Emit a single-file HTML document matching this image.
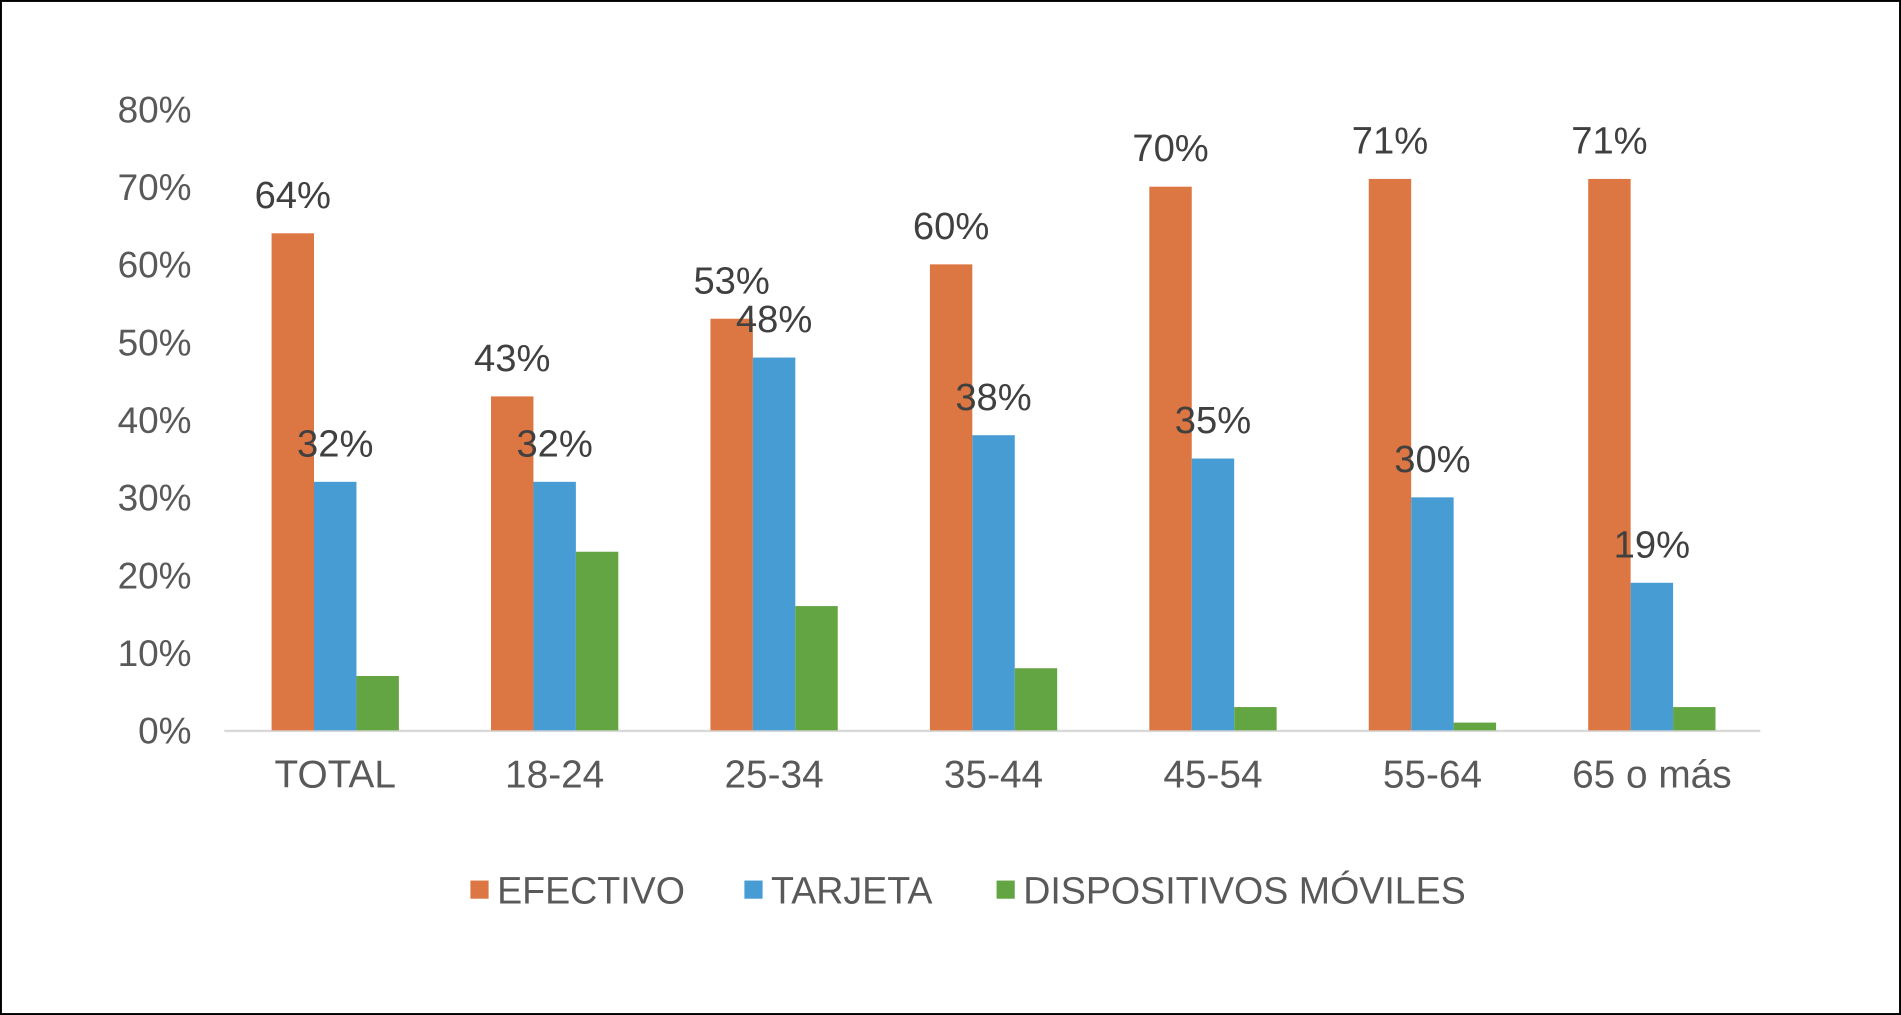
<!DOCTYPE html>
<html><head><meta charset="utf-8"><style>
html,body{margin:0;padding:0;background:#fff;}
svg{display:block;font-family:"Liberation Sans",Arial,sans-serif;}
</style></head><body>
<svg id="chart" width="1901" height="1015" viewBox="0 0 1568 838" preserveAspectRatio="none" xmlns="http://www.w3.org/2000/svg">
<rect x="0.8" y="0.8" width="1566.4" height="836.4" fill="#fff" stroke="#000" stroke-width="1.6"/>
<g id="grid"></g><g id="bars"></g><g id="labels"></g>
<g font-size="31" fill="#595959">
<rect x="388" y="727" width="15" height="15" fill="#dc7743"/>
<text x="410" y="746">EFECTIVO</text>
<rect x="614" y="727" width="15" height="15" fill="#469cd3"/>
<text x="636" y="746">TARJETA</text>
<rect x="822" y="727" width="15" height="15" fill="#64a543"/>
<text x="844" y="746">DISPOSITIVOS MÓVILES</text>
</g>
</svg>
<script>
const categories=["TOTAL","18-24","25-34","35-44","45-54","55-64","65 o más"];
const efectivo=[64,43,53,60,70,71,71];
const tarjeta=[32,32,48,38,35,30,19];
const moviles=[7,23,16,8,3,1,3];
const yTicks=[0,10,20,30,40,50,60,70,80];
const NS="http://www.w3.org/2000/svg";
const x0=185,x1=1452,yBase=603,yTop=90,yMax=80,bw=35;
const yScale=v=>yBase-(v/yMax)*(yBase-yTop);
const bandW=(x1-x0)/categories.length;
const xCenter=i=>x0+bandW*(i+0.5)+1;
function mk(tag,attrs,parent,txt){const e=document.createElementNS(NS,tag);for(const k in attrs)e.setAttribute(k,attrs[k]);if(txt!==undefined)e.textContent=txt;parent.appendChild(e);return e;}
const grid=document.getElementById('grid'),bars=document.getElementById('bars'),labels=document.getElementById('labels');
yTicks.forEach(t=>{
  const e=mk('text',{x:158,y:yScale(t)+11,'text-anchor':'end','font-size':30.5,fill:'#595959'},grid,t+'%');
  
  
});
const ax=mk('line',{x1:x0,x2:x1,y1:yBase+0.5,y2:yBase+0.5,stroke:'#d9d9d9','stroke-width':2},grid);


const series=[{d:efectivo,c:'#dc7743',n:'efectivo',lbl:true},{d:tarjeta,c:'#469cd3',n:'tarjeta',lbl:true},{d:moviles,c:'#64a543',n:'moviles',lbl:false}];
categories.forEach((cat,i)=>{
  const cx=xCenter(i);
  const t=mk('text',{x:cx,y:650,'text-anchor':'middle','font-size':32,fill:'#595959'},labels,cat);
  
  
  series.forEach((s,j)=>{
    const bx=cx-bw*1.5+j*bw, y=yScale(s.d[i]);
    const r=mk('rect',{x:bx,y:y,width:bw,height:yBase-y,fill:s.c},bars);
    
    
    if(s.lbl){
      const l=mk('text',{x:bx+bw/2,y:y-21,'text-anchor':'middle','font-size':31.5,fill:'#404040'},labels,s.d[i]+'%');
      
      
    }
  });
});
</script>
</body></html>
